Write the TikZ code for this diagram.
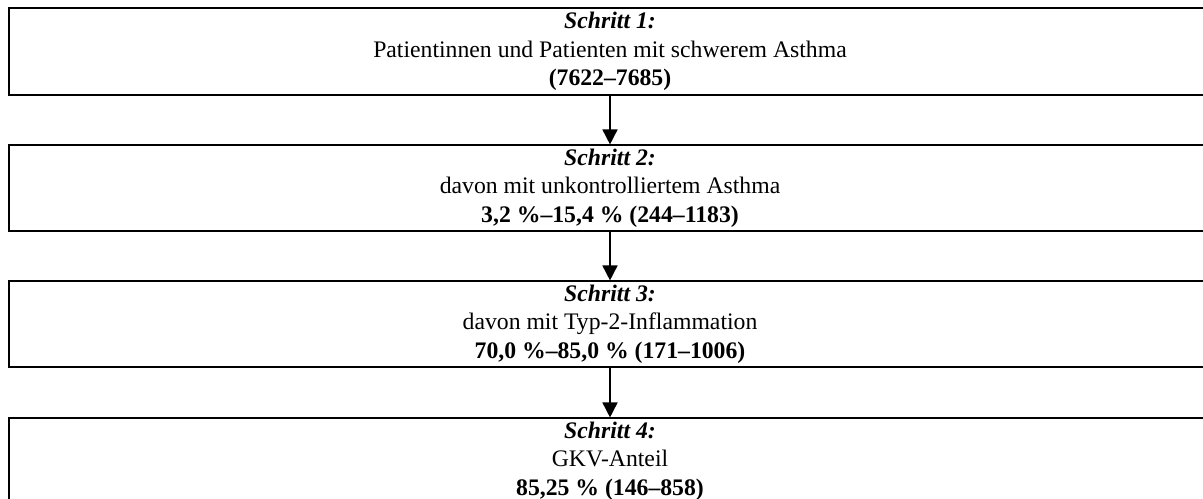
\documentclass[tikz,border=0pt]{standalone}
\usepackage{fontspec}
\setmainfont{Liberation Serif}
\usetikzlibrary{arrows.meta}
\begin{document}
\begin{tikzpicture}[x=1bp,y=-1bp,
  stepbox/.style={draw=black,line width=1.1bp,rectangle,minimum width=1202bp,minimum height=86bp,inner sep=0pt,align=center,font=\fontsize{23.8}{28.5}\selectfont},
  flow/.style={line width=1.6bp,-{Triangle[width=15bp,length=15bp]}}]
\useasboundingbox (0,0) rectangle (1203,499);
\clip (0,0) rectangle (1203,499);
\node[stepbox,minimum height=87bp] (s1) at (610,51.5) {\textbf{\textit{Schritt 1:}}\\Patientinnen und Patienten mit schwerem Asthma\\\textbf{(7622–7685)}};
\node[stepbox] (s2) at (610,188) {\textbf{\textit{Schritt 2:}}\\davon mit unkontrolliertem Asthma\\\textbf{3,2 \%–15,4 \% (244–1183)}};
\node[stepbox] (s3) at (610,324) {\textbf{\textit{Schritt 3:}}\\davon mit Typ-2-Inflammation\\\textbf{70,0 \%–85,0 \% (171–1006)}};
\node[stepbox] (s4) at (610,461) {\textbf{\textit{Schritt 4:}}\\GKV-Anteil\\\textbf{85,25 \% (146–858)}};
\draw[flow] (s1) -- (s2);
\draw[flow] (s2) -- (s3);
\draw[flow] (s3) -- (s4);
\end{tikzpicture}
\end{document}
